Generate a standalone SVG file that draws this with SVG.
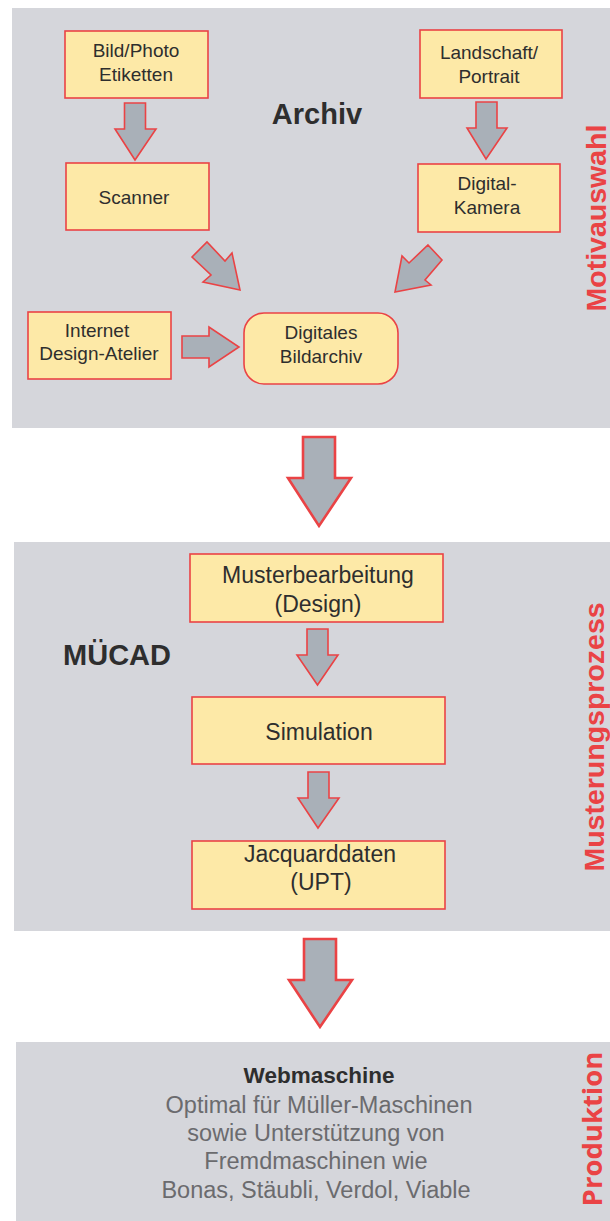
<svg xmlns="http://www.w3.org/2000/svg" width="610" height="1221" viewBox="0 0 610 1221">
<style>
.panel{fill:#d5d6db}
.box{fill:#fde9a7;stroke:#ea4345;stroke-width:1.6}
.arr{fill:#a9b0b8;stroke:#ea4345;stroke-width:1.6;stroke-linejoin:miter}
.big{fill:#a9b0b8;stroke:#ea4345;stroke-width:2.6;stroke-linejoin:miter}
.t{font-family:"Liberation Sans",Arial,sans-serif;fill:#2e2e2e;text-anchor:middle}
.n{font-size:19px}
.m{font-size:23px}
.h{font-size:29px;font-weight:bold}
.side{font-family:"Liberation Sans",Arial,sans-serif;font-size:28.5px;font-weight:bold;fill:#ea4345;text-anchor:middle}
.g{font-family:"Liberation Sans",Arial,sans-serif;font-size:23.5px;fill:#6b6b6e;text-anchor:middle}
</style>
<rect width="610" height="1221" fill="#ffffff"/>
<g id="panel-motivauswahl">
<rect class="panel" x="12" y="8" width="600" height="420"/>
<text class="t h" x="317" y="124">Archiv</text>
<text class="side" transform="translate(606,218) rotate(-90)">Motivauswahl</text>
</g>
<g id="panel-musterung">
<rect class="panel" x="14" y="542" width="598" height="389"/>
<text class="t h" x="117" y="665">MÜCAD</text>
<text class="side" transform="translate(604,737) rotate(-90)">Musterungsprozess</text>
</g>
<g id="panel-produktion">
<rect class="panel" x="16" y="1042" width="596" height="181"/>
<text class="side" style="font-family:'Open Sans','Noto Sans',sans-serif;font-size:27.5px" transform="translate(602,1129) rotate(-90)">Produktion</text>
</g>
<g id="n-bild"><rect class="box" x="65" y="31" width="143" height="67"/><text class="t n"><tspan x="136" y="57">Bild/Photo</tspan><tspan x="136" y="81">Etiketten</tspan></text></g>
<g id="n-scanner"><rect class="box" x="66" y="163" width="143" height="67"/><text class="t n" x="134" y="204">Scanner</text></g>
<g id="n-landschaft"><rect class="box" x="420" y="30" width="142" height="68"/><text class="t n"><tspan x="489" y="59">Landschaft/</tspan><tspan x="489" y="83">Portrait</tspan></text></g>
<g id="n-kamera"><rect class="box" x="418" y="164" width="142" height="68"/><text class="t n"><tspan x="487" y="190">Digital-</tspan><tspan x="487" y="214">Kamera</tspan></text></g>
<g id="n-internet"><rect class="box" x="28" y="312" width="143" height="67"/><text class="t n"><tspan x="97" y="337">Internet</tspan><tspan x="99" y="360">Design-Atelier</tspan></text></g>
<g id="n-bildarchiv"><rect class="box" x="244" y="313" width="154" height="71" rx="20" ry="20"/><text class="t n"><tspan x="321" y="339">Digitales</tspan><tspan x="321" y="363">Bildarchiv</tspan></text></g>
<g id="n-muster"><rect class="box" x="190" y="554" width="253" height="68"/><text class="t m"><tspan x="318" y="583">Musterbearbeitung</tspan><tspan x="318" y="612">(Design)</tspan></text></g>
<g id="n-simulation"><rect class="box" x="192" y="697" width="253" height="67"/><text class="t m" x="319" y="740">Simulation</text></g>
<g id="n-jacquard"><rect class="box" x="192" y="841" width="253" height="68"/><text class="t m"><tspan x="320" y="862">Jacquarddaten</tspan><tspan x="321" y="890">(UPT)</tspan></text></g>
<g id="n-webmaschine">
<text class="t" style="font-size:22.5px;font-weight:bold" x="319" y="1083">Webmaschine</text>
<text class="g"><tspan x="319" y="1113">Optimal für Müller-Maschinen</tspan><tspan x="316" y="1141">sowie Unterstützung von</tspan><tspan x="316" y="1169">Fremdmaschinen wie</tspan><tspan x="316" y="1198">Bonas, Stäubli, Verdol, Viable</tspan></text>
</g>
<g id="connectors">
<polygon class="arr" points="124.5,103 145.5,103 145.5,129 156,129 135,160 115,129 124.5,129"/>
<polygon class="arr" points="476,102 497,102 497,128 507,128 486,159 467,128 476,128"/>
<polygon class="arr" points="192,257 207,242 225,261 232,253 240,290 203,282 211,275"/>
<polygon class="arr" points="428,245 442,260 425,280 431,285 395,292 402,256 409,263"/>
<polygon class="arr" points="182,336 209,336 209,327 239,347 209,367 209,358 182,358"/>
<polygon class="big" points="303,437 335,437 335,478 351,478 319,526 288,478 303,478"/>
<polygon class="arr" points="307,629 328,629 328,655 338,655 317.5,685 297,655 307,655"/>
<polygon class="arr" points="308,772 329,772 329,798 339,798 318,828 298,798 308,798"/>
<polygon class="big" points="304,939 336,939 336,980 352,980 320,1027 289,980 304,980"/>
</g>
</svg>
